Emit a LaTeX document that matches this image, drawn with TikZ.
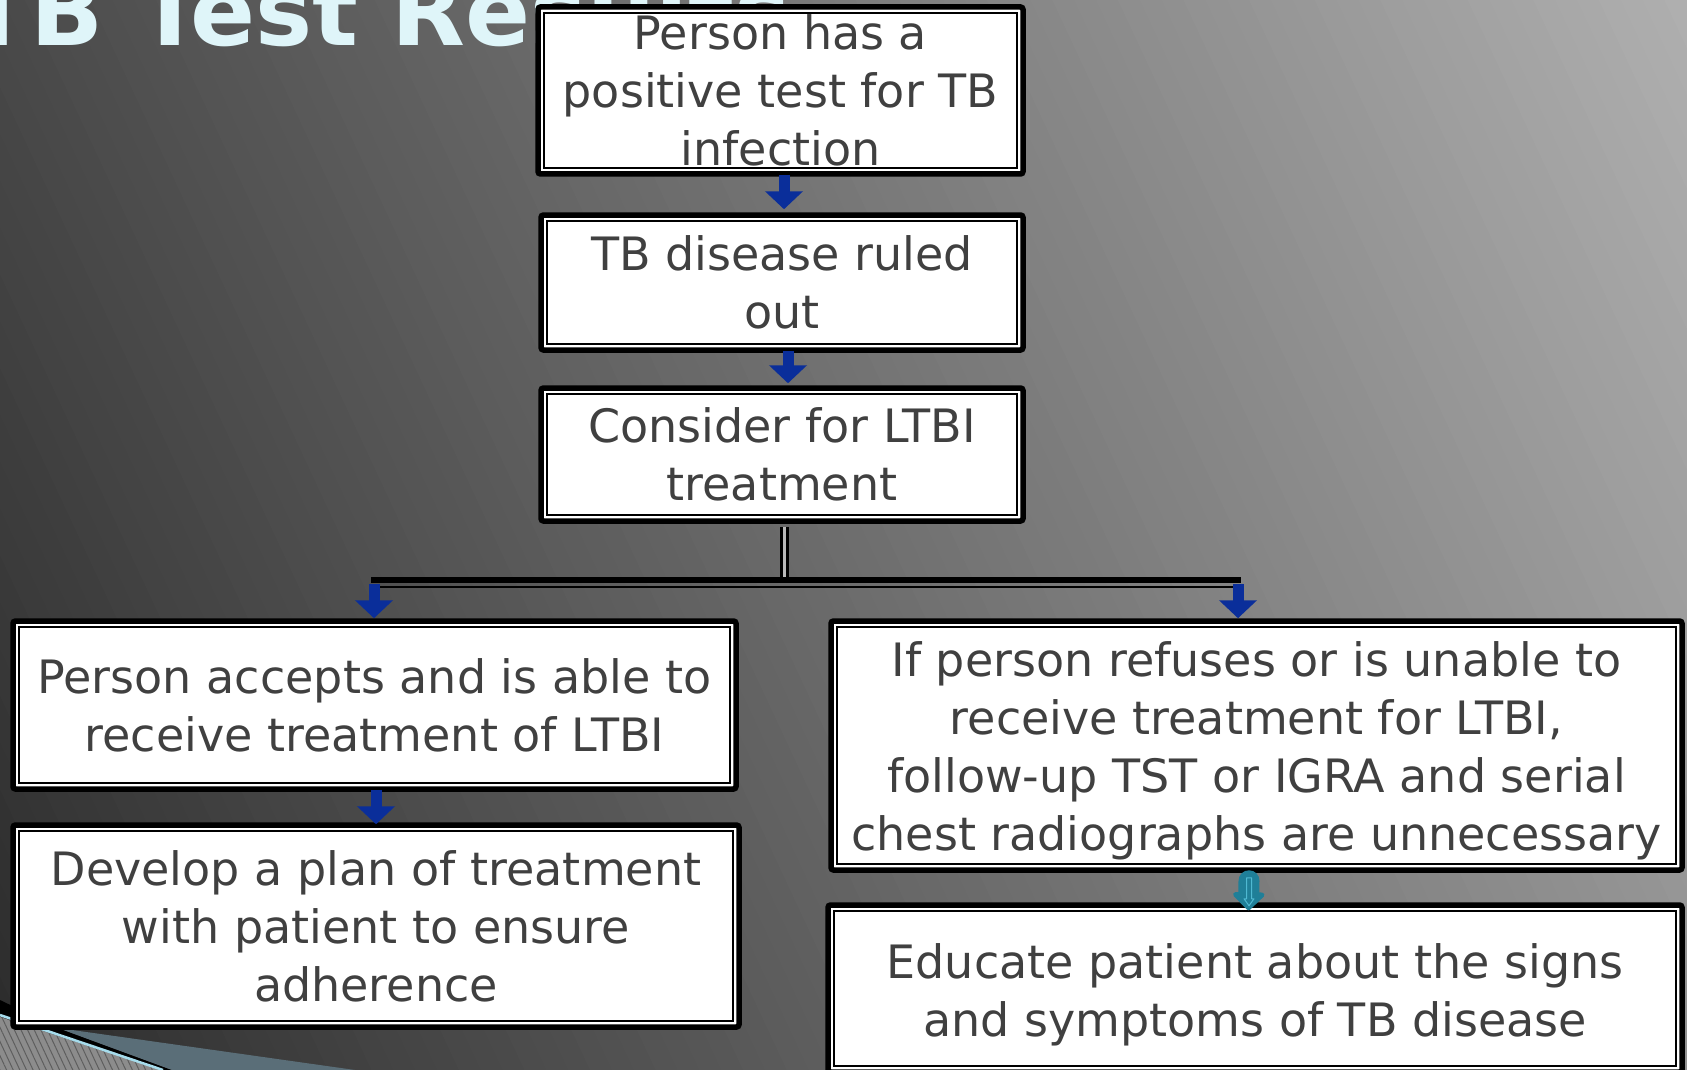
\documentclass[tikz,border=0pt]{standalone}
\usepackage{fontspec}
\setmainfont{DejaVu Sans}
\usetikzlibrary{arrows.meta,patterns.meta,calc}
\definecolor{txtgray}{HTML}{404040}
\definecolor{bgdark}{HTML}{2C2C2C}
\definecolor{bglight}{HTML}{B0B0B0}
\definecolor{titlecol}{HTML}{DFF5F9}
\definecolor{arrowblue}{HTML}{0A2E9A}
\definecolor{arrowteal}{HTML}{1F7F98}
\definecolor{tealline}{HTML}{4FB9D2}
\definecolor{bandteal}{HTML}{5A6E78}
\definecolor{hatchbg}{HTML}{8C8C8C}
\definecolor{hatchln}{HTML}{5E5E5E}
\definecolor{lightblue}{HTML}{A6DCEC}
\begin{document}
\begin{tikzpicture}[x=1pt,y=-1pt,
  box/.style={draw=black, line width=5.5pt, fill=white, rounded corners=2.5pt,
    inner sep=0pt, align=center, text=txtgray,
    font=\fontsize{46}{58}\selectfont,
    path picture={\draw[black, line width=1.8pt, sharp corners]
      ([shift={(6pt,-6pt)}]path picture bounding box.north west) rectangle
      ([shift={(-6pt,6pt)}]path picture bounding box.south east);}},
  barrow/.style={arrowblue, line width=11pt, -{Triangle[width=37pt,length=18pt]}},
  tarrow/.style={arrowteal, line width=21pt, line cap=round, -{Triangle[width=37pt,length=19pt,round]}},
  ]
\useasboundingbox (0,0) rectangle (1687,1070);
\begin{scope}
\clip (0,0) rectangle (1687,1070);
% background gradient (dark bottom-left to light top-right)
\foreach \i in {0,...,99}{
  \pgfmathsetmacro\pa{-453+19.81*\i}
  \pgfmathsetmacro\pb{\pa+21}
  \fill[bglight!\i!bgdark]
    ({0.906*\pa-4.23},{-(0.423*\pa+9.06)}) --
    ({0.906*\pb-4.23},{-(0.423*\pb+9.06)}) --
    ({0.906*\pb+719.1},{-(0.423*\pb-1540.2)}) --
    ({0.906*\pa+719.1},{-(0.423*\pa-1540.2)}) -- cycle;
}
% bottom-left decoration
\fill[black] (0,1000) -- (58,1028) -- (172,1070) -- (163,1070) -- (0,1015) -- cycle;
\fill[bandteal] (58,1028) -- (355,1070) -- (172,1070) -- cycle;
\fill[hatchbg] (0,1017) -- (162,1070) -- (0,1070) -- cycle;
\fill[pattern={Lines[angle=-65,distance=6pt,line width=1pt]}, pattern color=hatchln]
  (0,1017) -- (162,1070) -- (0,1070) -- cycle;
\draw[lightblue, line width=2.5pt] (0,1015) -- (163,1070);
% title
\node[anchor=base west, inner sep=0pt, text=titlecol,
  font=\fontsize{96}{110}\selectfont\bfseries] (title) at (-35,46) {TB Test Results};
\end{scope}

% boxes
\node[box, minimum width=485pt, minimum height=167pt] (b1) at (780.5,90.5)
  {Person has a\\positive test for TB\\infection};
\node[box, minimum width=482pt, minimum height=135pt] (b2) at (782,282.5)
  {TB disease ruled\\out};
\node[box, minimum width=482pt, minimum height=133pt] (b3) at (782,454.5)
  {Consider for LTBI\\treatment};
\node[box, minimum width=723pt, minimum height=168pt] (L1) at (374.5,705)
  {Person accepts and is able to\\receive treatment of LTBI};
\node[box, minimum width=726pt, minimum height=202pt] (L2) at (376,926)
  {Develop a plan of treatment\\with patient to ensure\\adherence};
\node[box, minimum width=851pt, minimum height=249pt] (R1) at (1256.5,745.5)
  {\raisebox{0pt}[\dimexpr\height+13pt\relax][\depth]{\begin{tabular}{@{}c@{}}If person refuses or is unable to\\receive treatment for LTBI,\\follow-up TST or IGRA and serial\\chest radiographs are unnecessary\end{tabular}}};
\node[box, minimum width=854pt, minimum height=167pt] (R2) at (1255,988.5)
  {\raisebox{0pt}[\dimexpr\height+15pt\relax][\depth]{\begin{tabular}{@{}c@{}}Educate patient about the signs\\and symptoms of TB disease\end{tabular}}};

% branch connector
\coordinate (barW) at (371,580);
\coordinate (barE) at (1241,580);
\coordinate (jL) at (374,584);
\coordinate (jR) at (1238,584);
\draw[line width=3pt, double=gray!55, double distance=2.5pt]
  ($(b3.south)+(2.5,3)$) -- ($(b3.south |- barW)+(2.5,0)$);
\draw[line width=6pt] (barW) -- (barE);
\draw[line width=2pt] ([yshift=-6.5pt]barW) -- ([yshift=-6.5pt]barE);

% arrows
\draw[barrow] ([xshift=3.5pt,yshift=2pt]b1.south) -- ([xshift=2pt,yshift=3pt]b2.north);
\draw[barrow] ([xshift=6pt,yshift=2pt]b2.south) -- ([xshift=6pt,yshift=2pt]b3.north);
\draw[barrow] (jL) -- (jL |- L1.north);
\draw[barrow] (jR) -- (jR |- R1.north);
\draw[barrow] ([xshift=1.5pt,yshift=2pt]L1.south) -- ([yshift=-2pt]L2.north);
\coordinate (tS) at ([xshift=-7.5pt,yshift=-8pt]R1.south);
\coordinate (tE) at ([xshift=-6.5pt,yshift=-8pt]R2.north);
\draw[tarrow] (tS) -- (tE);
\begin{scope}[shift={(tS)}]
\draw[tealline, line width=1pt, line join=round]
  (-2.5,-3) -- (-2.5,18) -- (-5,18) -- (0,25) -- (5,18) -- (2.5,18) -- (2.5,-3) -- cycle;
\end{scope}
\end{tikzpicture}
\end{document}
